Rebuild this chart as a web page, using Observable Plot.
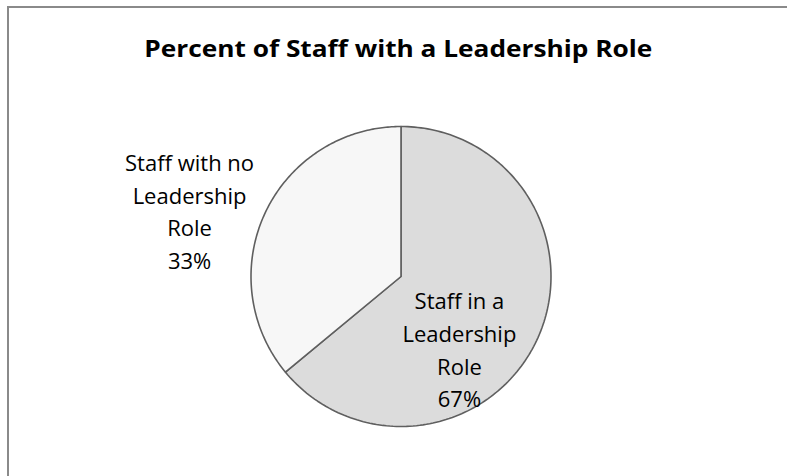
<!DOCTYPE html>
<html>
<head>
<meta charset="utf-8">
<script src="https://cdn.jsdelivr.net/npm/d3@7"></script>
<script src="https://cdn.jsdelivr.net/npm/@observablehq/plot@0.6"></script>
<style>
  html, body { margin: 0; padding: 0; background: #fff; overflow: hidden; }
  #page { position: relative; width: 787px; height: 476px; overflow: hidden; }
  #frame { position: absolute; left: 7px; top: 6px; width: 900px; height: 600px;
           border-left: 2px solid #8a8a8a; border-top: 2px solid #8a8a8a; }
  #title { position: absolute; left: 0; top: 36px; width: 796px; text-align: center;
           font-family: "Open Sans", "Noto Sans", sans-serif; font-weight: 700;
           font-size: 24px; line-height: 24px; color: #000; white-space: nowrap; }
  #title span { display: inline-block; transform-origin: center; }
  #chart { position: absolute; left: 0; top: 90px; }
</style>
</head>
<body>
<div id="page">
  <div id="frame"></div>
  <div id="title"><span>Percent of Staff with a Leadership Role</span></div>
  <div id="chart"></div>
</div>
<script>
// ---- data ----
const categories = ["Staff in a Leadership Role", "Staff with no Leadership Role"];
const shares = [64, 36];              // slice sizes as drawn in the picture
const percentLabels = ["67%", "33%"]; // label text as printed
const fills = ["#dcdcdc", "#f7f7f7"];

// ---- build slices ----
const pie = d3.pie().sort(null).value(d => d.value);
const arcs = pie(categories.map((c, i) => ({name: c, value: shares[i], pct: percentLabels[i]})));

const outline = [];
arcs.forEach((a, i) => {
  outline.push({slice: i, x: 0, y: 0});
  const n = 180;
  for (let k = 0; k <= n; k++) {
    const t = a.startAngle + (a.endAngle - a.startAngle) * k / n;
    outline.push({slice: i, x: Math.sin(t), y: Math.cos(t)});
  }
});

function labelPoint(a, r) {
  const m = (a.startAngle + a.endAngle) / 2;
  const words = a.data.name.split(" ");
  const l1 = words.slice(0, words.length - 2).join(" ");
  return {x: r * Math.sin(m), y: r * Math.cos(m),
          text: [l1, words[words.length - 2], words[words.length - 1], a.data.pct].join("\n")};
}
const lab0 = [labelPoint(arcs[0], 0.6)];
const lab1 = [labelPoint(arcs[1], 1.3)];

const W = 787, H = 386, R = 150, cx = 400.5, cy = 186;

const plot = Plot.plot({
  width: W, height: H,
  margin: 0,
  x: {domain: [-cx / R, (W - cx) / R], axis: null},
  y: {domain: [-(H - cy) / R, cy / R], axis: null},
  style: {background: "transparent", overflow: "visible"},
  marks: [
    Plot.line(outline.filter(d => d.slice === 0), {x: "x", y: "y", curve: "linear-closed",
      fill: fills[0], stroke: "#5f5f5f", strokeWidth: 1.6, strokeLinejoin: "round"}),
    Plot.line(outline.filter(d => d.slice === 1), {x: "x", y: "y", curve: "linear-closed",
      fill: fills[1], stroke: "#5f5f5f", strokeWidth: 1.6, strokeLinejoin: "round"}),
    Plot.text(lab0, {x: "x", y: "y", text: "text", dx: -23, dy: 33, fontSize: 22,
      lineHeight: 1.48, fontFamily: "Open Sans", fill: "#000", textAnchor: "middle"}),
    Plot.text(lab1, {x: "x", y: "y", text: "text", dx: -35, dy: 16, fontSize: 22,
      lineHeight: 1.48, fontFamily: "Open Sans", fill: "#000", textAnchor: "middle"})
  ]
});
document.getElementById("chart").appendChild(plot);

// fit title width to the reference's title width
const span = document.querySelector("#title span");
const w = span.getBoundingClientRect().width;
span.style.transform = `scaleX(${508 / w})`;
</script>
</body>
</html>
